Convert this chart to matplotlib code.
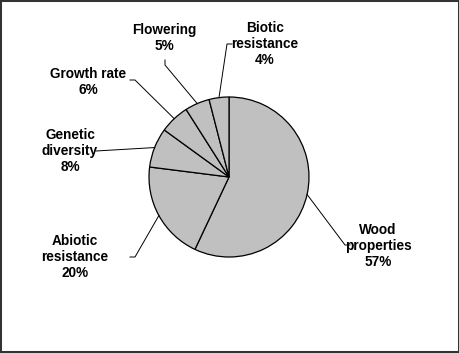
import numpy as np
import matplotlib
matplotlib.use("Agg")
import matplotlib.pyplot as plt
from matplotlib.patches import Rectangle

# slices, clockwise from 12 o'clock
labels = ["Wood\nproperties", "Abiotic\nresistance", "Genetic\ndiversity",
          "Growth rate", "Flowering", "Biotic\nresistance"]
shares = [57, 20, 8, 6, 5, 4]

W, H = 460, 353
fig = plt.figure(figsize=(W / 100, H / 100), dpi=100)
ax = fig.add_axes([0, 0, 1, 1])
ax.set_xlim(0, W)
ax.set_ylim(0, H)
ax.set_aspect("equal")
ax.axis("off")

cx, cy, r = 229, H - 177, 80
wedges, _ = ax.pie(shares, startangle=90, counterclock=False, center=(cx, cy),
                   radius=r, colors=["#c0c0c0"] * len(shares),
                   wedgeprops=dict(edgecolor="black", linewidth=0.9))
ax.set_xlim(0, W)
ax.set_ylim(0, H)

# label text centre (pixels from top-left), elbow point, line end at text
layout = [
    ((378, 246), (345, 245), (350, 245)),
    ((75, 257), (135, 257), (130, 257)),
    ((70, 151), (96, 151), (96, 151)),
    ((88, 82), (135, 80), (130, 80)),
    ((164, 38), (165, 65), (165, 60)),
    ((265, 44), (227, 44), (232, 44)),
]

for w, lab, pct, (tc, elbow, tip) in zip(wedges, labels, shares, layout):
    mid = np.deg2rad((w.theta1 + w.theta2) / 2)
    ex, ey = cx + r * np.cos(mid), cy + r * np.sin(mid)
    ax.plot([ex, elbow[0], tip[0]], [ey, H - elbow[1], H - tip[1]],
            color="black", linewidth=0.7, solid_joinstyle="miter")
    ax.text(tc[0], H - tc[1], f"{lab}\n{pct}%", ha="center", va="center",
            fontsize=9.8, fontweight="bold", family="Liberation Sans",
            linespacing=1.22)

fig.add_artist(Rectangle((0, 0), 1, 1, transform=fig.transFigure, fill=False,
                         edgecolor="#333333", linewidth=2.9))

fig.savefig("out.png", dpi=100)
